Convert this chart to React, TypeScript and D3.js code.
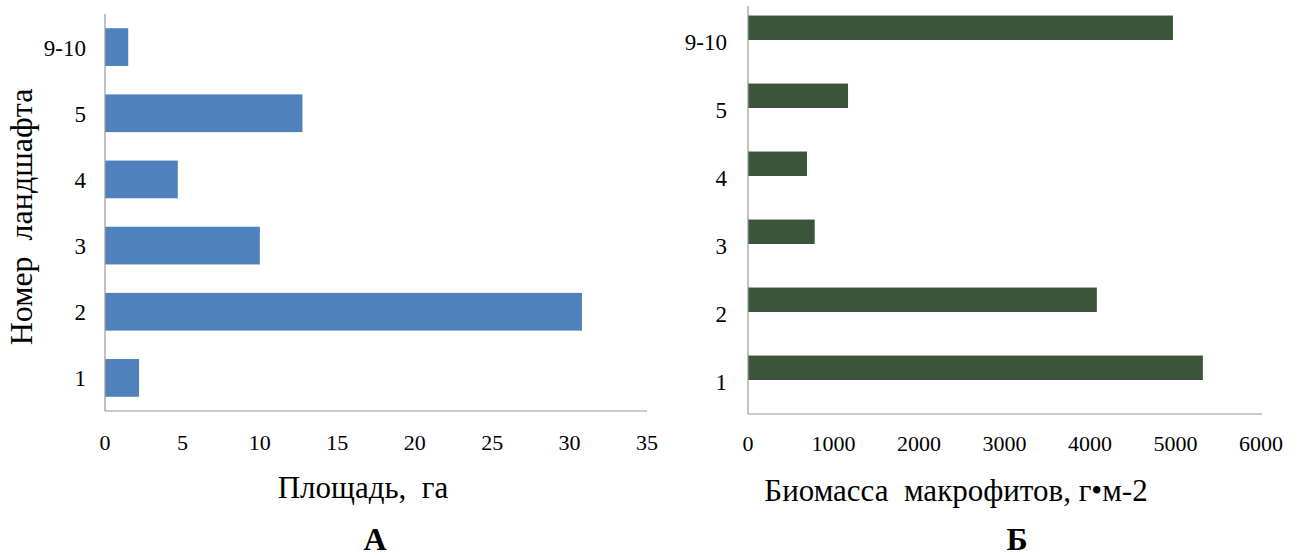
import React from "react";
import * as d3 from "d3";

const categories = ["1", "2", "3", "4", "5", "9-10"];
const areaValues = [2.2, 30.8, 10.0, 4.7, 12.75, 1.5];
const biomassValues = [5320, 4080, 780, 690, 1170, 4970];
const areaTicks = [0, 5, 10, 15, 20, 25, 30, 35];
const biomassTicks = [0, 1000, 2000, 3000, 4000, 5000, 6000];

const FONT = "'Liberation Serif', 'Times New Roman', serif";

export default function App() {
  // Left chart (A)
  const xA = d3.scaleLinear().domain([0, 35]).range([105, 647]);
  const yA = d3
    .scaleBand<string>()
    .domain([...categories].reverse())
    .range([14, 411])
    .paddingInner(0.43)
    .paddingOuter(0.215);

  // Right chart (Б)
  const xB = d3.scaleLinear().domain([0, 6000]).range([748, 1261]);
  const yB = d3
    .scaleBand<string>()
    .domain([...categories].reverse())
    .range([6, 414])
    .padding(0);
  const barHB = yB.bandwidth() / 2.78;

  const axisColor = "#9a9a9a";

  return (
    <svg
      width={1301}
      height={558}
      style={{ position: "absolute", left: 0, top: 0, background: "#fff" }}
      fontFamily={FONT}
    >
      {/* ---------- Chart A ---------- */}
      {categories.map((c, i) => (
        <rect
          key={"a" + c}
          x={xA(0)}
          y={yA(c)!}
          width={xA(areaValues[i]) - xA(0)}
          height={yA.bandwidth()}
          fill="#4F81BD"
        />
      ))}
      <line x1={xA(0)} x2={xA(0)} y1={14} y2={411} stroke={axisColor} strokeWidth={1.2} />
      <line x1={xA(0)} x2={xA(35)} y1={411} y2={411} stroke={axisColor} strokeWidth={1.2} />
      {categories.map((c) => (
        <text
          key={"al" + c}
          x={86}
          y={yA(c)! + yA.bandwidth() / 2 + 1}
          textAnchor="end"
          dominantBaseline="central"
          fontSize={23}
          fill="#000"
        >
          {c}
        </text>
      ))}
      {areaTicks.map((t) => (
        <text
          key={"at" + t}
          x={xA(t)}
          y={442}
          textAnchor="middle"
          dominantBaseline="central"
          fontSize={22}
          fill="#000"
        >
          {t}
        </text>
      ))}
      <text
        transform={`translate(32,217) rotate(-90)`}
        textAnchor="middle"
        fontSize={32}
        fill="#000"
        xmlSpace="preserve"
      >
        Номер  ландшафта
      </text>
      <text x={363} y={498} textAnchor="middle" fontSize={31} fill="#000" xmlSpace="preserve">
        Площадь,  га
      </text>
      <text x={375} y={550} textAnchor="middle" fontSize={32} fontWeight="bold" fill="#000">
        А
      </text>

      {/* ---------- Chart Б ---------- */}
      {categories.map((c, i) => {
        const center = yB(c)! + yB.bandwidth() / 2;
        return (
          <rect
            key={"b" + c}
            x={xB(0)}
            y={center - barHB}
            width={xB(biomassValues[i]) - xB(0)}
            height={barHB}
            fill="#3B553A"
          />
        );
      })}
      <line x1={xB(0)} x2={xB(0)} y1={6} y2={414} stroke={axisColor} strokeWidth={1.2} />
      <line x1={xB(0)} x2={xB(6000) + 1} y1={414} y2={414} stroke={axisColor} strokeWidth={1.2} />
      {categories.map((c) => (
        <text
          key={"bl" + c}
          x={727}
          y={yB(c)! + yB.bandwidth() / 2 + 2}
          textAnchor="end"
          dominantBaseline="central"
          fontSize={23}
          fill="#000"
        >
          {c}
        </text>
      ))}
      {biomassTicks.map((t) => (
        <text
          key={"bt" + t}
          x={xB(t)}
          y={443}
          textAnchor="middle"
          dominantBaseline="central"
          fontSize={22}
          fill="#000"
        >
          {t}
        </text>
      ))}
      <text x={956} y={501} textAnchor="middle" fontSize={31} fill="#000" xmlSpace="preserve">
        Биомасса  макрофитов, г•м-2
      </text>
      <text x={1017} y={550} textAnchor="middle" fontSize={32} fontWeight="bold" fill="#000">
        Б
      </text>
    </svg>
  );
}
